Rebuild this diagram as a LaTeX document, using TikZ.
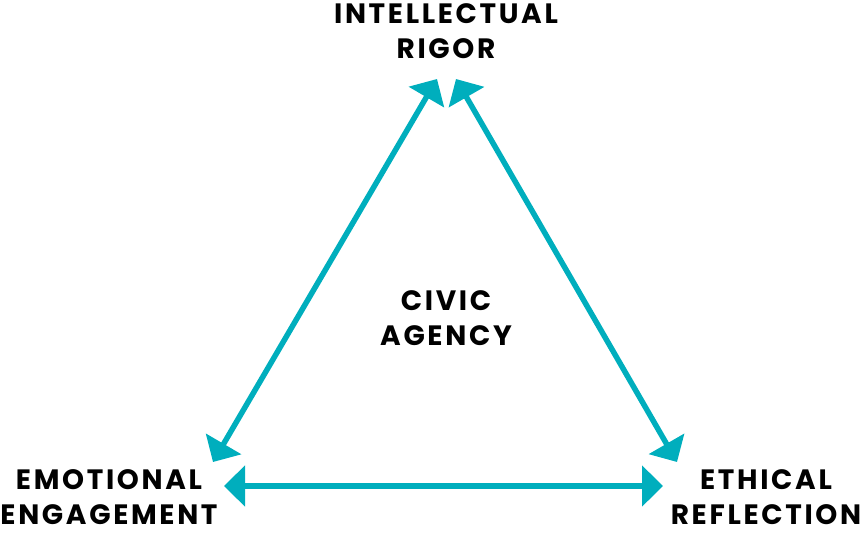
\documentclass[tikz,border=0pt]{standalone}
\usepackage{fontspec}
\setmainfont{Poppins}[LetterSpace=9.5]
\usetikzlibrary{arrows.meta}
\definecolor{civicteal}{RGB}{0,174,189}
\tikzset{
  label/.style={align=center,inner sep=0pt,font=\fontsize{28}{35}\selectfont\bfseries},
  link/.style={civicteal,line width=5.5pt,{Triangle[length=21pt,width=40pt]}-{Triangle[length=21pt,width=40pt]}}
}

\begin{document}
\begin{tikzpicture}[x=1pt,y=-1pt]
\useasboundingbox (0,0) rectangle (861,535);
\node[label] (rigor) at (446,31) {INTELLECTUAL\\RIGOR};
\node[label] (agency) at (446,318) {CIVIC\\AGENCY};
\node[label] (emotion) at (109,497) {EMOTIONAL\\ENGAGEMENT};
\node[label] (ethics) at (766,497) {ETHICAL\\REFLECTION};
\coordinate (r-l) at (437,79);
\coordinate (r-r) at (456,79);
\coordinate (e-t) at (213,462);
\coordinate (e-r) at (224,486);
\coordinate (f-t) at (677,462);
\coordinate (f-l) at (663,486);
\path
(r-l) edge[link] (e-t)
(r-r) edge[link] (f-t)
(e-r) edge[link] (f-l);
\end{tikzpicture}
\end{document}
